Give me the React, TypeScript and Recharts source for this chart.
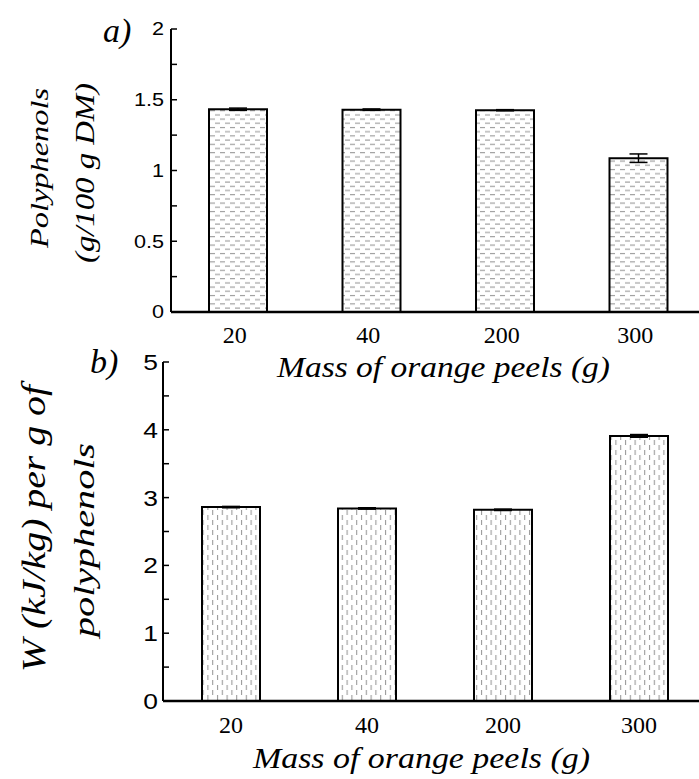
import React from "react"
import { Bar, BarChart, ErrorBar, XAxis, YAxis } from "recharts"

const MASSES = ["20", "40", "200", "300"]
const POLYPHENOLS = [1.433, 1.43, 1.426, 1.087]
const POLYPHENOLS_ERR = [0.008, 0.005, 0.004, 0.03]
const ENERGY = [2.86, 2.84, 2.82, 3.91]
const ENERGY_ERR = [0.01, 0.01, 0.01, 0.02]

const TOP_TICKS = [0, 0.25, 0.5, 0.75, 1, 1.25, 1.5, 1.75, 2]
const TOP_LABELS = [0, 0.5, 1, 1.5, 2]
const BOTTOM_TICKS = [0, 0.5, 1, 1.5, 2, 2.5, 3, 3.5, 4, 4.5, 5]
const BOTTOM_LABELS = [0, 1, 2, 3, 4, 5]

const SERIF = "Liberation Serif"
const SANS = "Liberation Sans"

const topData = MASSES.map((m, i) => ({ mass: m, value: POLYPHENOLS[i], err: POLYPHENOLS_ERR[i] }))
const bottomData = MASSES.map((m, i) => ({ mass: m, value: ENERGY[i], err: ENERGY_ERR[i] }))

function makeYTick(labels: number[], gap: number, fontSize: number) {
  return function YTick(props: any) {
    const { x, y, payload } = props
    const v = Number(payload?.value)
    const show = labels.includes(v)
    return (
      <g>
        <line x1={x + gap} x2={x + gap + 6} y1={y} y2={y} stroke="#000" strokeWidth={1.5} />
        {show ? (
          <text
            transform={`translate(${x},${y}) scale(1.2,1)`}
            dy="0.36em"
            textAnchor="end"
            fontFamily={SANS}
            fontSize={fontSize}
            style={{ fontFamily: SANS, fontSize: fontSize }}
            fill="#000"
          >
            {String(v)}
          </text>
        ) : null}
      </g>
    )
  }
}

function XTick(props: any) {
  const { x, y, payload, shift } = props
  return (
    <text
      x={x + (shift || 0)}
      y={y}
      dy="0.71em"
      textAnchor="middle"
      fontFamily={SERIF}
      fontSize={24}
      style={{ fontFamily: SERIF, fontSize: 24 }}
      fill="#000"
    >
      {payload?.value}
    </text>
  )
}

const italic = (size: number) => ({ fontFamily: SERIF, fontStyle: "italic" as const, fontSize: size })

export default function App() {
  return (
    <div style={{ position: "absolute", left: 0, top: 0, width: 699, height: 779, overflow: "hidden", background: "#fff" }}>
      <svg width={0} height={0} style={{ position: "absolute" }}>
        <defs>
          <pattern id="hdash" width={10} height={8.4} patternUnits="userSpaceOnUse">
            <rect width={10} height={8.4} fill="#fff" />
            <line x1={0} x2={5} y1={1.5} y2={1.5} stroke="#9a9a9a" strokeWidth={1.1} />
            <line x1={5} x2={10} y1={5.7} y2={5.7} stroke="#9a9a9a" strokeWidth={1.1} />
          </pattern>
          <pattern id="vdash" width={9.6} height={10} patternUnits="userSpaceOnUse">
            <rect width={9.6} height={10} fill="#fff" />
            <line x1={1.5} x2={1.5} y1={0} y2={5} stroke="#9a9a9a" strokeWidth={1.1} />
            <line x1={6.3} x2={6.3} y1={5} y2={10} stroke="#9a9a9a" strokeWidth={1.1} />
          </pattern>
        </defs>
      </svg>

      {/* a) polyphenols */}
      <div style={{ position: "absolute", left: 0, top: 0 }}>
        <BarChart width={710} height={400} data={topData} margin={{ top: 29, right: 5, bottom: 58, left: 111 }}>
          <XAxis
            dataKey="mass"
            height={30}
            tickLine={false}
            tickSize={0}
            tickMargin={14}
            axisLine={{ stroke: "#000", strokeWidth: 2.5 }}
            tick={<XTick shift={-3} />}
            interval={0}
          />
          <YAxis
            width={60}
            domain={[0, 2]}
            ticks={TOP_TICKS}
            interval={0}
            tickLine={false}
            tickSize={0}
            tickMargin={7}
            axisLine={{ stroke: "#000", strokeWidth: 2 }}
            tick={makeYTick(TOP_LABELS, 7, 18)}
          />
          <Bar dataKey="value" barSize={58} fill="url(#hdash)" stroke="#000" strokeWidth={2} isAnimationActive={false}>
            <ErrorBar dataKey="err" width={9} stroke="#000" strokeWidth={1.5} direction="y" />
          </Bar>
        </BarChart>
      </div>

      {/* b) energy per g polyphenols */}
      <div style={{ position: "absolute", left: 0, top: 340 }}>
        <BarChart width={710} height={439} data={bottomData} margin={{ top: 22, right: 3, bottom: 48, left: 103 }}>
          <XAxis
            dataKey="mass"
            height={30}
            tickLine={false}
            tickSize={0}
            tickMargin={15}
            axisLine={{ stroke: "#000", strokeWidth: 2.5 }}
            tick={<XTick shift={0} />}
            interval={0}
          />
          <YAxis
            width={60}
            domain={[0, 5]}
            ticks={BOTTOM_TICKS}
            interval={0}
            tickLine={false}
            tickSize={0}
            tickMargin={5}
            axisLine={{ stroke: "#000", strokeWidth: 2 }}
            tick={makeYTick(BOTTOM_LABELS, 5, 22)}
          />
          <Bar dataKey="value" barSize={58} fill="url(#vdash)" stroke="#000" strokeWidth={2} isAnimationActive={false}>
            <ErrorBar dataKey="err" width={9} stroke="#000" strokeWidth={1.5} direction="y" />
          </Bar>
        </BarChart>
      </div>

      {/* titles */}
      <svg width={699} height={779} style={{ position: "absolute", left: 0, top: 0, pointerEvents: "none" }}>
        <g fill="#000">
          <text x={103} y={42} fontFamily={SERIF} style={italic(34)}>a)</text>
          <text x={90} y={373} fontFamily={SERIF} style={italic(34)}>b)</text>
          <text x={443.5} y={377} fontFamily={SERIF} style={italic(30)} textAnchor="middle" textLength={333} lengthAdjust="spacingAndGlyphs">
            Mass of orange peels (g)
          </text>
          <text x={421.5} y={768} fontFamily={SERIF} style={italic(30)} textAnchor="middle" textLength={337} lengthAdjust="spacingAndGlyphs">
            Mass of orange peels (g)
          </text>
          <text x={47.5} y={168} fontFamily={SERIF} style={italic(25)} textAnchor="middle" transform="rotate(-90 47.5 168)" textLength={160} lengthAdjust="spacingAndGlyphs">
            Polyphenols
          </text>
          <text x={94} y={173} fontFamily={SERIF} style={italic(27)} textAnchor="middle" transform="rotate(-90 94 173)" textLength={180} lengthAdjust="spacingAndGlyphs">
            (g/100 g DM)
          </text>
          <text x={44.5} y={528.5} fontFamily={SERIF} style={italic(33)} textAnchor="middle" transform="rotate(-90 44.5 528.5)" textLength={287} lengthAdjust="spacingAndGlyphs">
            W (kJ/kg) per g of
          </text>
          <text x={94} y={540} fontFamily={SERIF} style={italic(29)} textAnchor="middle" transform="rotate(-90 94 540)" textLength={194} lengthAdjust="spacingAndGlyphs">
            polyphenols
          </text>
        </g>
      </svg>
    </div>
  )
}
